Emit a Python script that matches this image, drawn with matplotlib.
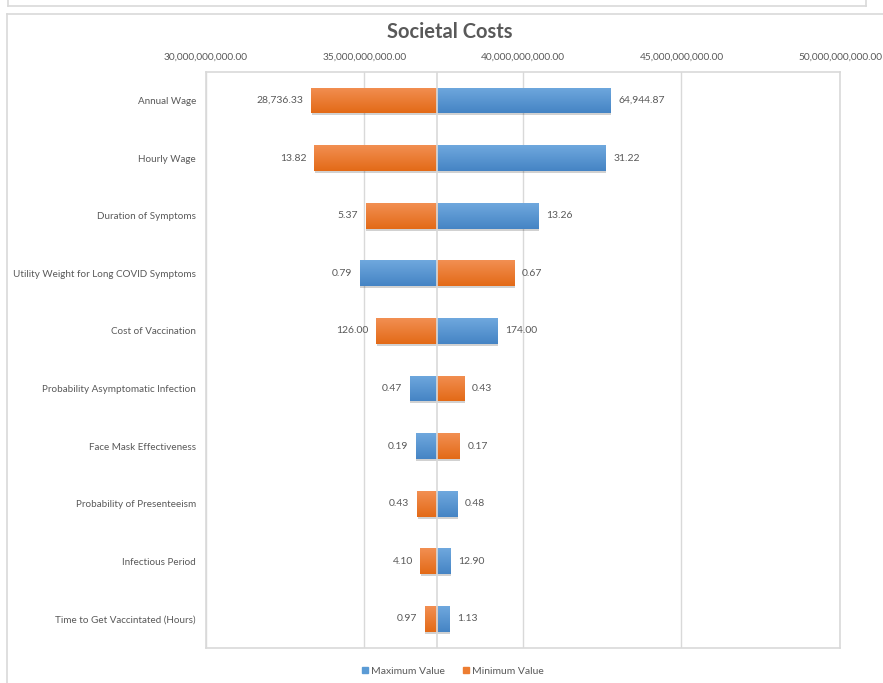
import numpy as np
import matplotlib
matplotlib.use("Agg")
import matplotlib.pyplot as plt
from matplotlib.patches import Rectangle
from matplotlib.lines import Line2D
from matplotlib.ticker import FuncFormatter

# Tornado data: societal cost (billions) when each parameter is set to its min / max
categories = [
    "Annual Wage",
    "Hourly Wage",
    "Duration of Symptoms",
    "Utility Weight for Long COVID Symptoms",
    "Cost of Vaccination",
    "Probability Asymptomatic Infection",
    "Face Mask Effectiveness",
    "Probability of Presenteeism",
    "Infectious Period",
    "Time to Get Vaccintated (Hours)",
]
base_cost = 37.29
cost_at_min = [33.32, 33.42, 35.04, 39.74, 35.38, 38.15, 38.01, 36.66, 36.77, 36.90]
cost_at_max = [42.76, 42.61, 40.48, 34.85, 39.20, 36.43, 36.62, 37.93, 37.73, 37.68]
min_param_labels = ["28,736.33", "13.82", "5.37", "0.67", "126.00",
                    "0.43", "0.17", "0.43", "4.10", "0.97"]
max_param_labels = ["64,944.87", "31.22", "13.26", "0.79", "174.00",
                    "0.47", "0.19", "0.48", "12.90", "1.13"]
x_ticks = [30, 35, 40, 45, 50]

plt.rcParams["font.family"] = ["Lato", "DejaVu Sans"]
TXT = "#595959"
GRID = "#D9D9D9"

W, H = 883, 683
fig = plt.figure(figsize=(W / 100, H / 100), dpi=100)
fig.patch.set_facecolor("white")


def fx(px):
    return px / W


def fy(py):
    return 1 - py / H


# Outer chart frames
fig.add_artist(Line2D([fx(8), fx(866)], [fy(6), fy(6)], color=GRID, lw=1.2))
fig.add_artist(Line2D([fx(8), fx(8)], [fy(0), fy(6)], color=GRID, lw=1.2))
fig.add_artist(Line2D([fx(866), fx(866)], [fy(0), fy(6)], color=GRID, lw=1.2))
fig.add_artist(Line2D([fx(7), fx(7)], [fy(14), fy(683)], color=GRID, lw=1.2))
fig.add_artist(Line2D([fx(7), fx(883)], [fy(14), fy(14)], color=GRID, lw=1.2))

left, right, top, bottom = 205.7, 840, 71.7, 647.7
ax = fig.add_axes([fx(left), fy(bottom), fx(right - left), (bottom - top) / H])

n = len(categories)
y = np.arange(n)
ax.set_ylim(n - 0.5, -0.5)
ax.set_xlim(x_ticks[0], x_ticks[-1])

bar_h = 0.45
blue_grad = ("#6FA8DE", "#4584C4")
orange_grad = ("#F28F52", "#E36A17")


def gradient_bar(yc, start, end, colors):
    x0, x1 = min(start, end), max(start, end)
    # soft shadow
    ax.add_patch(Rectangle((x0 + 0.02, yc - bar_h / 2 + 0.035), x1 - x0, bar_h,
                           facecolor="#000000", alpha=0.18, lw=0, zorder=2))
    rect = Rectangle((x0, yc - bar_h / 2), x1 - x0, bar_h,
                     facecolor="none", lw=0, zorder=3)
    ax.add_patch(rect)
    c0 = np.array(matplotlib.colors.to_rgb(colors[0]))
    c1 = np.array(matplotlib.colors.to_rgb(colors[1]))
    t = np.linspace(0, 1, 64)[:, None]
    img = (c0 * (1 - t) + c1 * t)[:, None, :]
    im = ax.imshow(img, extent=(x0, x1, yc + bar_h / 2, yc - bar_h / 2),
                   aspect="auto", zorder=3, interpolation="bilinear")
    im.set_clip_path(rect)


for i in range(n):
    gradient_bar(y[i], base_cost, cost_at_max[i], blue_grad)
    gradient_bar(y[i], base_cost, cost_at_min[i], orange_grad)
    # parameter value labels at the bar ends
    for val, lab in ((cost_at_min[i], min_param_labels[i]),
                     (cost_at_max[i], max_param_labels[i])):
        if val < base_cost:
            ax.annotate(lab, (val, y[i]), xytext=(-5.5, 0), textcoords="offset points",
                        ha="right", va="center", fontsize=7.5, color=TXT, zorder=5)
        else:
            ax.annotate(lab, (val, y[i]), xytext=(5.5, 0), textcoords="offset points",
                        ha="left", va="center", fontsize=7.5, color=TXT, zorder=5)

# base-case axis line and gridlines
ax.axvline(base_cost, color=GRID, lw=1.2, zorder=4)
ax.set_xticks(x_ticks)
ax.grid(axis="x", color=GRID, lw=1.0, zorder=0)
ax.set_axisbelow(True)
ax.xaxis.tick_top()
ax.xaxis.set_major_formatter(FuncFormatter(lambda v, p: f"{v * 1e9:,.2f}"))
ax.tick_params(axis="x", length=0, pad=7, labelsize=7.3, labelcolor=TXT)

ax.set_yticks(y)
ax.set_yticklabels(categories)
ax.tick_params(axis="y", length=0, pad=7, labelsize=7.1, labelcolor=TXT)

for s in ax.spines.values():
    s.set_color(GRID)
    s.set_linewidth(1.2)

fig.text(fx(450), fy(32), "Societal Costs", ha="center", va="center",
         fontsize=14.5, fontweight="bold", color=TXT)

handles = [Line2D([], [], marker="s", ls="none", markersize=5,
                  markerfacecolor="#5B9BD5", markeredgecolor="#5B9BD5"),
           Line2D([], [], marker="s", ls="none", markersize=5,
                  markerfacecolor="#ED7D31", markeredgecolor="#ED7D31")]
fig.legend(handles, ["Maximum Value", "Minimum Value"], loc="center",
           bbox_to_anchor=(fx(452), fy(671)), ncol=2, frameon=False,
           fontsize=7.5, labelcolor=TXT, handletextpad=0.1, columnspacing=1.5,
           handlelength=1.0)

fig.savefig("out.png", dpi=100, facecolor="white")
